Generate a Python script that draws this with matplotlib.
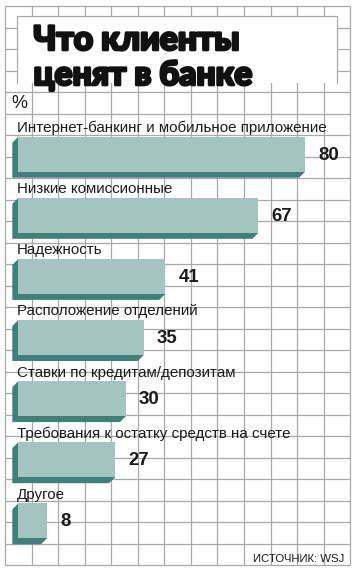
import numpy as np
import matplotlib.pyplot as plt
import matplotlib.patheffects as pe
from matplotlib.patches import Polygon, Rectangle

# данные
categories = [
    "Интернет-банкинг и мобильное приложение",
    "Низкие комиссионные",
    "Надежность",
    "Расположение отделений",
    "Ставки по кредитам/депозитам",
    "Требования к остатку средств на счете",
    "Другое",
]
values = [80, 67, 41, 35, 30, 27, 8]

title_lines = ["Что клиенты", "ценят в банке"]
unit_label = "%"
source = "ИСТОЧНИК: WSJ"

W, H = 357, 572
grid_c = "#a8a8a8"
front_c = "#a4c4c1"
side_c = "#3f8179"
label_font = ["Liberation Sans", "DejaVu Sans"]

fig = plt.figure(figsize=(W / 100, H / 100), dpi=100)
fig.patch.set_facecolor("white")

# фон: клетка и рамка заголовка (в пикселях)
bg = fig.add_axes([0, 0, 1, 1])
bg.set_xlim(0, W)
bg.set_ylim(H, 0)
bg.axis("off")

xs = 5 + 26.55 * np.arange(14)
ys = 6 + 21.5 * np.arange(27)
bg.vlines(xs, 6, 565, color=grid_c, lw=0.9, zorder=1)
bg.hlines(ys, 5, 350, color=grid_c, lw=0.9, zorder=1)
bg.add_patch(Rectangle((17, 16), 320, 67, facecolor="white", edgecolor="none", zorder=2))
bg.plot([17, 17, 337, 337], [83, 16, 16, 83], color=grid_c, lw=0.9, zorder=3)

# заголовок, утолщённый обводкой
heavy = [pe.Stroke(linewidth=1.9, foreground="#111111"), pe.Normal()]
bg.text(33.5, 50, title_lines[0], fontsize=24.2, family=["Lato", "DejaVu Sans"],
        fontweight="black", va="baseline", color="#111111", zorder=4, path_effects=heavy)
bg.text(33.5, 85, title_lines[1], fontsize=24.2, family=["Lato", "DejaVu Sans"],
        fontweight="black", va="baseline", color="#111111", zorder=4, path_effects=heavy)
bg.text(11, 108.5, unit_label, fontsize=13, family=label_font,
        va="baseline", color="#1a1a1a", zorder=4)
bg.text(344, 561.5, source, fontsize=8.2, family=label_font,
        ha="right", va="baseline", color="#1a1a1a", zorder=4)

# столбцы
ppu = 3.585      # пикселей на 1 %
x0px = 18.3
row = 61.1       # шаг между столбцами, px
c0 = 154.2       # центр первого столбца, px

ax = fig.add_axes([0, 0, 1, 1])
ax.patch.set_alpha(0)
ax.set_xlim(-x0px / ppu, (W - x0px) / ppu)
ax.set_ylim((H - c0) / row, -c0 / row)
ax.axis("off")

bar_h = 35 / row
dx = 6 / ppu
dy = 6 / row

pos = np.arange(len(values))
for i, v in zip(pos, values):
    top = i - bar_h / 2
    bot = i + bar_h / 2
    ax.add_patch(Polygon([(0, top), (-dx, top + dy), (-dx, bot + dy),
                          (v - dx, bot + dy), (v, bot)],
                         closed=True, facecolor=side_c, edgecolor="none", zorder=2))

ax.barh(pos, values, height=bar_h, left=0, color=front_c, edgecolor="none", zorder=3)

for i, (cat, v) in enumerate(zip(categories, values)):
    ax.text(-0.4, i - bar_h / 2 - 4.5 / row, cat, fontsize=10.9, family=label_font,
            va="baseline", ha="left", color="#1a1a1a", zorder=4)
    ax.text(v + 13 / ppu, i + 1 / row, str(v), fontsize=13.4,
            family=["Liberation Sans", "DejaVu Sans"], fontweight="bold",
            va="center", ha="left", color="#1a1a1a", zorder=4)

fig.savefig("out.png", dpi=100, facecolor="white")
